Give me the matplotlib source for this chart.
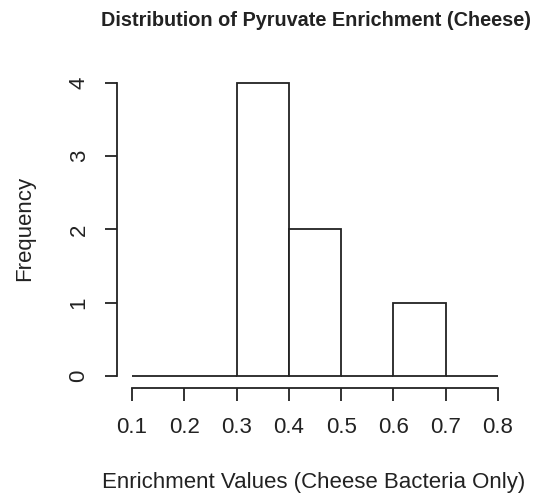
import matplotlib
matplotlib.use("Agg")
import matplotlib.pyplot as plt
import numpy as np

# Data
bin_edges = [0.1, 0.2, 0.3, 0.4, 0.5, 0.6, 0.7, 0.8]
counts = [0, 0, 4, 2, 0, 1, 0]
x_ticks = [0.1, 0.2, 0.3, 0.4, 0.5, 0.6, 0.7, 0.8]
x_tick_labels = ["0.1", "0.2", "0.3", "0.4", "0.5", "0.6", "0.7", "0.8"]
y_ticks = [0, 1, 2, 3, 4]
title = "Distribution of Pyruvate Enrichment (Cheese)"
xlabel = "Enrichment Values (Cheese Bacteria Only)"
ylabel = "Frequency"

plt.rcParams['font.family'] = ['Liberation Sans', 'DejaVu Sans']
W, H = 537, 494
fig = plt.figure(figsize=(W / 100, H / 100), dpi=100)
left, right, top, bottom = 117.4, 512.6, 71.3, 387.7
ax = fig.add_axes([left / W, 1 - bottom / H, (right - left) / W, (bottom - top) / H])

lc = '#222222'
edges = np.array(bin_edges)
widths = np.diff(edges)
ax.bar(edges[:-1], counts, width=widths, align='edge', facecolor='white',
       edgecolor=lc, linewidth=1.3, clip_on=False)

ax.set_xlim(0.1 - 0.028, 0.8 + 0.028)
ax.set_ylim(-0.16, 4.16)

for s in ['top', 'right']:
    ax.spines[s].set_visible(False)
ax.spines['bottom'].set_bounds(0.1, 0.8)
ax.spines['left'].set_bounds(0, 4)
for s in ['bottom', 'left']:
    ax.spines[s].set_color(lc)
    ax.spines[s].set_linewidth(1.3)

ax.set_xticks(x_ticks)
ax.set_xticklabels(x_tick_labels)
ax.set_yticks(y_ticks)
ax.set_yticklabels([str(v) for v in y_ticks], rotation=90, va='center')
ax.tick_params(axis='both', direction='out', length=9, width=1.3, color=lc,
               labelsize=16, labelcolor='#222222')
ax.tick_params(axis='x', pad=12)
ax.tick_params(axis='y', pad=11)

fig.text(316 / W, 1 - 20 / H, title, ha='center', va='center',
         fontsize=14.3, fontweight='bold', color='#222222')
fig.text(314 / W, 1 - 482 / H, xlabel, ha='center', va='center',
         fontsize=16, color='#222222')
fig.text(25 / W, 1 - 228 / H, ylabel, ha='center', va='center',
         rotation=90, fontsize=16, color='#222222')

fig.savefig('out.png', dpi=100)
